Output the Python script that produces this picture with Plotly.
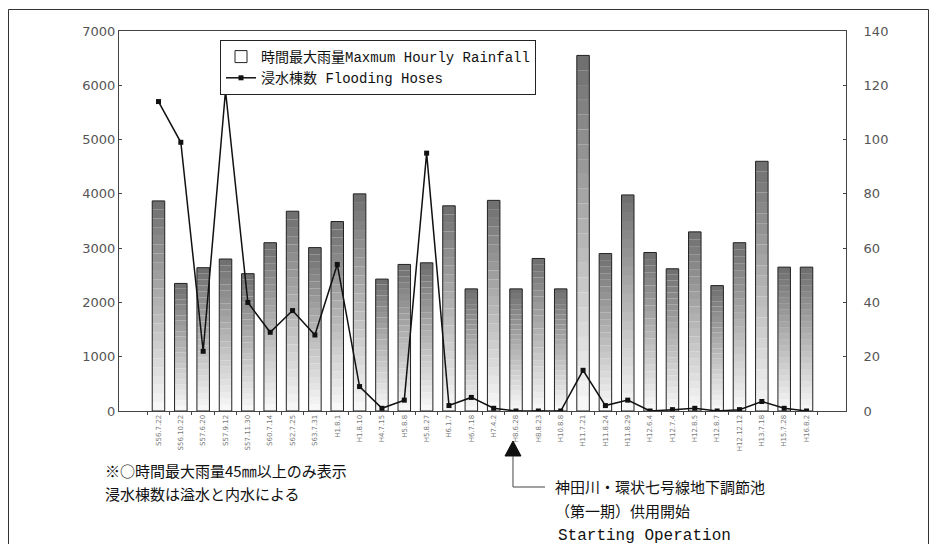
import plotly.graph_objects as go

dates = ["S56.7.22", "S56.10.22", "S57.6.20", "S57.9.12", "S57.11.30", "S60.7.14",
         "S62.7.25", "S63.7.31", "H1.8.1", "H1.8.10", "H4.7.15", "H5.8.8", "H5.8.27",
         "H6.1.7", "H6.7.18", "H7.4.2", "H8.6.28", "H8.8.23", "H10.8.8", "H11.7.21",
         "H11.8.24", "H11.8.29", "H12.6.4", "H12.7.4", "H12.8.5", "H12.8.7", "H12.12.12",
         "H13.7.18", "H15.7.28", "H16.8.2"]

rainfall = [3870, 2350, 2640, 2800, 2530, 3100, 3680, 3010, 3490, 4000, 2430, 2700,
            2730, 3780, 2250, 3880, 2250, 2810, 2250, 6550, 2900, 3980, 2920, 2620,
            3300, 2310, 3100, 4600, 2650, 2650]

flooded = [114, 99, 22, 118, 40, 29, 37, 28, 54, 9, 1, 4, 95, 2, 5, 1, 0, 0, 0, 15,
           2, 4, 0, 0.5, 1, 0, 0.5, 3.5, 1, 0]

FONT_JP = "Noto Sans CJK JP"
FONT_LEG = "Liberation Mono, Noto Sans CJK JP"
N_STEPS = 24
BAR_W = 0.56

# page body has an 8px margin, so the figure is laid out 8px in from the window edge
OFF = 8
L, T, PW, PH = 111, 23, 727, 380

fig = go.Figure()

# vertical gradient inside each bar: dark grey at the top, almost white at the bottom
top_rgb = (110, 110, 110)
bot_rgb = (250, 250, 250)
for i in range(N_STEPS):
    t = (i + 0.5) / N_STEPS
    c = tuple(int(b + (a - b) * t) for a, b in zip(top_rgb, bot_rgb))
    fig.add_trace(go.Bar(
        x=dates, y=[v / N_STEPS for v in rainfall],
        base=[v * i / N_STEPS for v in rainfall],
        width=BAR_W, marker=dict(color="rgb(%d,%d,%d)" % c, line=dict(width=0)),
        showlegend=False, hoverinfo="skip"
    ))

fig.add_trace(go.Bar(
    x=dates, y=rainfall, width=BAR_W,
    name="時間最大雨量Maxmum Hourly Rainfall",
    marker=dict(color="rgba(0,0,0,0)", line=dict(color="#222", width=1))
))

fig.add_trace(go.Scatter(
    x=dates, y=flooded, yaxis="y2",
    mode="lines+markers", name="浸水棟数 Flooding Hoses",
    line=dict(color="#111", width=1.5),
    marker=dict(symbol="square", size=5, color="#111")
))

fig.update_layout(
    width=921, height=536,
    margin=dict(l=L, r=921 - L - PW, t=T, b=536 - T - PH),
    barmode="overlay",
    paper_bgcolor="white", plot_bgcolor="white",
    font=dict(family="DejaVu Sans", color="#333"),
    showlegend=True,
    legend=dict(
        x=(220 - OFF - L) / PW, y=(T + PH - (40 - OFF)) / PH,
        xanchor="left", yanchor="top",
        bgcolor="white", bordercolor="#222", borderwidth=1,
        font=dict(family=FONT_LEG, size=14, color="#111"),
        tracegroupgap=0, itemwidth=30
    ),
    xaxis=dict(
        type="category", showline=True, linecolor="#444", linewidth=1,
        mirror=True, ticks="outside", ticklen=3, tickson="boundaries",
        tickcolor="#444", tickangle=-90,
        tickfont=dict(size=7, color="#777", family="DejaVu Sans"),
        showgrid=False
    ),
    yaxis=dict(
        range=[0, 7000], dtick=1000, showline=True, linecolor="#444",
        linewidth=1, ticks="inside", ticklen=3, tickcolor="#444",
        showgrid=False, zeroline=False,
        tickfont=dict(size=13, color="#555")
    ),
    yaxis2=dict(
        range=[0, 140], dtick=20, overlaying="y", side="right",
        showline=True, linecolor="#444", linewidth=1, ticks="inside",
        ticklen=3, tickcolor="#444", showgrid=False, zeroline=False,
        ticklabelstandoff=14,
        tickfont=dict(size=13, color="#555")
    ),
)


def px_x(p):
    # window pixel -> paper x
    return (p - OFF - L) / PW


def px_y(p):
    # window pixel -> paper y
    return (T + PH - (p - OFF)) / PH


# outer frame (bottom edge runs off the page, as in the source)
fig.add_shape(type="rect", xref="paper", yref="paper",
              x0=px_x(8.5), x1=px_x(928.5), y0=px_y(580), y1=px_y(9.5),
              line=dict(color="#333", width=1))

# arrow marking the start of operation
fig.add_shape(type="path", xref="paper", yref="paper",
              path="M %f,%f L %f,%f L %f,%f Z" % (
                  px_x(513), px_y(441), px_x(505), px_y(456), px_x(521), px_y(456)),
              fillcolor="#111", line=dict(color="#111", width=1))
fig.add_shape(type="path", xref="paper", yref="paper",
              path="M %f,%f L %f,%f L %f,%f" % (
                  px_x(513), px_y(456), px_x(513), px_y(487), px_x(545), px_y(487)),
              line=dict(color="#444", width=1))

notes = [
    (103, 470, "※○時間最大雨量45㎜以上のみ表示", FONT_JP, 15),
    (103, 493, "浸水棟数は溢水と内水による", FONT_JP, 15),
    (553, 486, "神田川・環状七号線地下調節池", FONT_JP, 15),
    (553, 510, "（第一期）供用開始", FONT_JP, 15),
    (556, 536, "Starting Operation", "Liberation Mono", 16),
]
for x, y, txt, fam, sz in notes:
    fig.add_annotation(x=px_x(x), y=px_y(y), xref="paper", yref="paper",
                       text=txt, showarrow=False, xanchor="left", yanchor="middle",
                       font=dict(family=fam, size=sz, color="#111"))

fig.write_html("out.html")
